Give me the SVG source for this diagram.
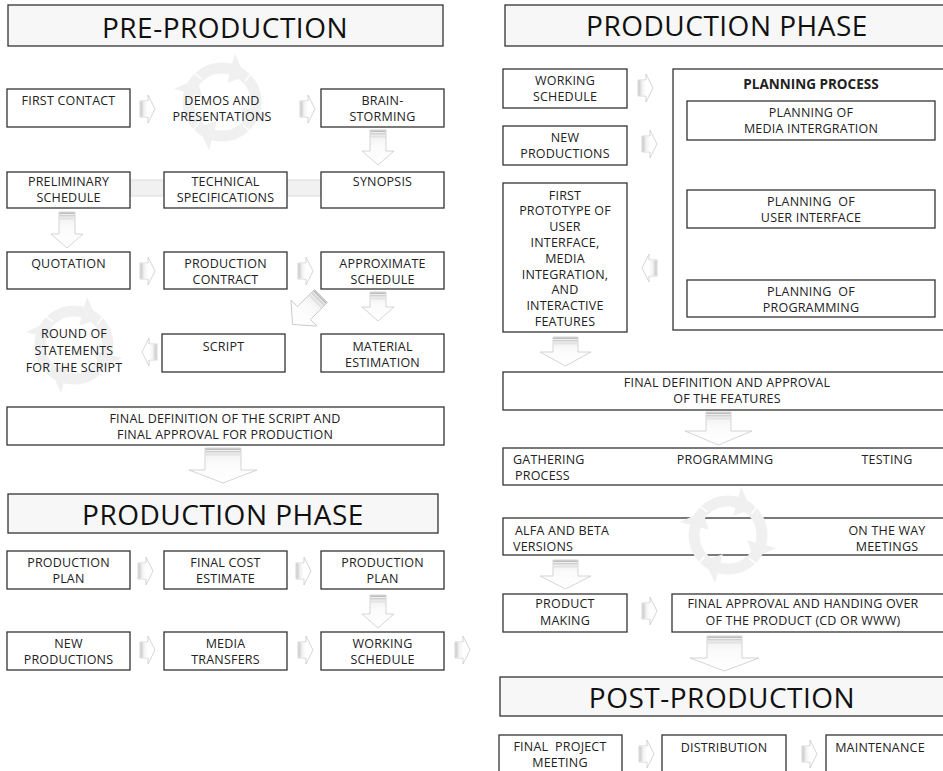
<svg xmlns="http://www.w3.org/2000/svg" xmlns:xlink="http://www.w3.org/1999/xlink" width="943" height="771" viewBox="0 0 943 771">
<style>
.box{fill:#fff;stroke:#333;stroke-width:1.3}
.hdr{fill:#f7f7f7;stroke:#333;stroke-width:1.3}
.band{fill:#f1f1f1;stroke:#dcdcdc;stroke-width:1}
.t{font-family:"Open Sans","Liberation Sans",sans-serif;font-size:12.5px;letter-spacing:0.2px;fill:#222;text-anchor:middle}
.tl{text-anchor:start}
.h{font-size:28px;letter-spacing:0.5px;fill:#111}
.b{font-weight:bold;font-size:13.5px;letter-spacing:0}
.arr{fill:url(#gv);stroke:#cacaca;stroke-width:0.8}
.s1{fill:#bdbdbd}
.s2{fill:#d0d0d0}
.s3{fill:#e2e2e2}
.cyc{fill:#f0f0f0}
</style>
<defs>
<linearGradient id="gv" x1="0" y1="0" x2="0" y2="1">
<stop offset="0" stop-color="#ececec"/>
<stop offset="0.45" stop-color="#fbfbfb"/>
<stop offset="1" stop-color="#ffffff"/>
</linearGradient>
<linearGradient id="gh" x1="0" y1="0" x2="1" y2="0">
<stop offset="0" stop-color="#c6c6c6"/>
<stop offset="0.5" stop-color="#f2f2f2"/>
<stop offset="1" stop-color="#ffffff"/>
</linearGradient>
<g id="ra">
<polygon points="0,6 8,6 8,0 15,14 8,28 8,22 0,22" fill="#fff" stroke="#cacaca" stroke-width="0.8"/>
<rect x="0.5" y="6.5" width="7.5" height="15" fill="url(#gh)"/>
</g>
<g id="ahd">
<polygon points="0,-50 0,-20 16,-30.5" class="cyc"/>
<line x1="17" y1="-26" x2="22" y2="-38" stroke="#fff" stroke-width="1.4"/>
</g>
<g id="cyc">
<circle r="34" fill="none" stroke="#f0f0f0" stroke-width="11"/>
<use xlink:href="#ahd" transform="rotate(15)"/>
<use xlink:href="#ahd" transform="rotate(105)"/>
<use xlink:href="#ahd" transform="rotate(195)"/>
<use xlink:href="#ahd" transform="rotate(285)"/>
</g>
</defs>
<rect width="943" height="771" fill="#fff"/>

<use xlink:href="#cyc" transform="translate(222,102)"/>
<use xlink:href="#cyc" transform="translate(74,345)"/>

<g id="bands">
<rect class="band" x="130" y="180" width="34" height="16"/>
<rect class="band" x="287" y="180" width="34" height="16"/>
</g>

<g id="connectors">
<use xlink:href="#ra" x="140" y="95"/>
<use xlink:href="#ra" x="300" y="95"/>
<use xlink:href="#ra" x="140" y="257"/>
<use xlink:href="#ra" x="298" y="257"/>
<use xlink:href="#ra" x="138" y="557"/>
<use xlink:href="#ra" x="296" y="557"/>
<use xlink:href="#ra" x="140" y="636"/>
<use xlink:href="#ra" x="298" y="636"/>
<use xlink:href="#ra" x="455" y="636"/>
<use xlink:href="#ra" transform="translate(157,338) scale(-1,1)"/>
<use xlink:href="#ra" x="638" y="74"/>
<use xlink:href="#ra" x="642" y="130"/>
<use xlink:href="#ra" transform="translate(657,254) scale(-1,1)"/>
<use xlink:href="#ra" x="642" y="453"/>
<use xlink:href="#ra" x="801" y="453"/>
<use xlink:href="#ra" x="642" y="597"/>
<use xlink:href="#ra" x="639" y="740"/>
<use xlink:href="#ra" x="802" y="740"/>

<polygon class="arr" points="370,130 386,130 386,151 394,151 378,165 362,151 370,151"/>
<rect class="s1" x="370.5" y="130.5" width="15" height="1.5"/><rect class="s2" x="370.5" y="133" width="15" height="1.5"/><rect class="s3" x="370.5" y="135.5" width="15" height="2"/>

<polygon class="arr" points="59,212 75,212 75,234 83,234 67,248 51,234 59,234"/>
<rect class="s1" x="59.5" y="212.5" width="15" height="1.5"/><rect class="s2" x="59.5" y="215" width="15" height="1.5"/><rect class="s3" x="59.5" y="217.5" width="15" height="2"/>

<polygon class="arr" points="370,292 386,292 386,307 394,307 378,321 362,307 370,307"/>
<rect class="s1" x="370.5" y="292.5" width="15" height="1.5"/><rect class="s2" x="370.5" y="295" width="15" height="1.5"/><rect class="s3" x="370.5" y="297.5" width="15" height="2"/>

<g transform="translate(321,296) rotate(45) scale(1.15) translate(-16,0)">
<polygon class="arr" points="8,0 24,0 24,21 32,21 16,35 0,21 8,21"/>
<rect class="s1" x="8.5" y="0.5" width="15" height="1.5"/><rect class="s2" x="8.5" y="3" width="15" height="1.5"/><rect class="s3" x="8.5" y="5.5" width="15" height="2"/>
</g>

<polygon class="arr" points="205,448 241,448 241,470 257,470 223,483 189,470 205,470"/>
<rect class="s1" x="205.5" y="448.5" width="35" height="1.5"/><rect class="s2" x="205.5" y="451" width="35" height="1.5"/><rect class="s3" x="205.5" y="453.5" width="35" height="2"/>

<polygon class="arr" points="370,595 386,595 386,614 394,614 378,628 362,614 370,614"/>
<rect class="s1" x="370.5" y="595.5" width="15" height="1.5"/><rect class="s2" x="370.5" y="598" width="15" height="1.5"/><rect class="s3" x="370.5" y="600.5" width="15" height="2"/>

<polygon class="arr" points="803,148 819,148 819,168 827,168 811,182 795,168 803,168"/>
<rect class="s1" x="803.5" y="148.5" width="15" height="1.5"/><rect class="s2" x="803.5" y="151" width="15" height="1.5"/><rect class="s3" x="803.5" y="153.5" width="15" height="2"/>

<polygon class="arr" points="803,238 819,238 819,258 827,258 811,272 795,258 803,258"/>
<rect class="s1" x="803.5" y="238.5" width="15" height="1.5"/><rect class="s2" x="803.5" y="241" width="15" height="1.5"/><rect class="s3" x="803.5" y="243.5" width="15" height="2"/>

<polygon class="arr" points="553,337 578,337 578,352 591,352 565.5,366 540,352 553,352"/>
<rect class="s1" x="553.5" y="337.5" width="24" height="1.5"/><rect class="s2" x="553.5" y="340" width="24" height="1.5"/><rect class="s3" x="553.5" y="342.5" width="24" height="2"/>

<polygon class="arr" points="706,412 731,412 731,431 752,431 718.5,445 685,431 706,431"/>
<rect class="s1" x="706.5" y="412.5" width="24" height="1.5"/><rect class="s2" x="706.5" y="415" width="24" height="1.5"/><rect class="s3" x="706.5" y="417.5" width="24" height="2"/>

<polygon class="arr" points="553,560 578,560 578,576 591,576 565.5,589 540,576 553,576"/>
<rect class="s1" x="553.5" y="560.5" width="24" height="1.5"/><rect class="s2" x="553.5" y="563" width="24" height="1.5"/><rect class="s3" x="553.5" y="565.5" width="24" height="2"/>

<polygon class="arr" points="707,636 742,636 742,658 759,658 724.5,671 690,658 707,658"/>
<rect class="s1" x="707.5" y="636.5" width="34" height="1.5"/><rect class="s2" x="707.5" y="639" width="34" height="1.5"/><rect class="s3" x="707.5" y="641.5" width="34" height="2"/>
</g>

<g id="hdr-pre"><rect class="hdr" x="8" y="5" width="435" height="41"/><text class="t h" x="225" y="38">PRE-PRODUCTION</text></g>
<g id="n-first-contact"><rect class="box" x="7" y="89" width="123" height="38"/><text class="t" x="68.5" y="104.5">FIRST CONTACT</text></g>
<g id="n-demos"><text class="t" x="222" y="104.5">DEMOS AND</text><text class="t" x="222" y="121">PRESENTATIONS</text></g>
<g id="n-brain"><rect class="box" x="321" y="89" width="123" height="38"/><text class="t" x="382.5" y="104.5">BRAIN-</text><text class="t" x="382.5" y="121">STORMING</text></g>
<g id="n-prelim"><rect class="box" x="7" y="172" width="123" height="36"/><text class="t" x="68.5" y="186">PRELIMINARY</text><text class="t" x="68.5" y="202">SCHEDULE</text></g>
<g id="n-tech"><rect class="box" x="164" y="172" width="123" height="36"/><text class="t" x="225.5" y="186">TECHNICAL</text><text class="t" x="225.5" y="202">SPECIFICATIONS</text></g>
<g id="n-synopsis"><rect class="box" x="321" y="172" width="123" height="36"/><text class="t" x="382.5" y="186">SYNOPSIS</text></g>
<g id="n-quotation"><rect class="box" x="7" y="252" width="123" height="37"/><text class="t" x="68.5" y="267.5">QUOTATION</text></g>
<g id="n-contract"><rect class="box" x="164" y="252" width="123" height="37"/><text class="t" x="225.5" y="267.5">PRODUCTION</text><text class="t" x="225.5" y="283.5">CONTRACT</text></g>
<g id="n-approx"><rect class="box" x="321" y="252" width="123" height="37"/><text class="t" x="382.5" y="267.5">APPROXIMATE</text><text class="t" x="382.5" y="283.5">SCHEDULE</text></g>
<g id="n-round"><text class="t" x="74" y="337.5">ROUND OF</text><text class="t" x="74" y="354.5">STATEMENTS</text><text class="t" x="74" y="371.5">FOR THE SCRIPT</text></g>
<g id="n-script"><rect class="box" x="162" y="334" width="123" height="38"/><text class="t" x="223.5" y="350.5">SCRIPT</text></g>
<g id="n-material"><rect class="box" x="321" y="334" width="123" height="38"/><text class="t" x="382.5" y="350.5">MATERIAL</text><text class="t" x="382.5" y="366.5">ESTIMATION</text></g>
<g id="n-final-script"><rect class="box" x="7" y="407" width="437" height="38"/><text class="t" x="225" y="423">FINAL DEFINITION OF THE SCRIPT AND</text><text class="t" x="225" y="439">FINAL APPROVAL FOR PRODUCTION</text></g>
<g id="hdr-prod-left"><rect class="hdr" x="8" y="494" width="430" height="39"/><text class="t h" x="223" y="525">PRODUCTION PHASE</text></g>
<g id="n-pplan1"><rect class="box" x="7" y="551" width="123" height="38"/><text class="t" x="68.5" y="567">PRODUCTION</text><text class="t" x="68.5" y="583">PLAN</text></g>
<g id="n-cost"><rect class="box" x="164" y="551" width="123" height="38"/><text class="t" x="225.5" y="567">FINAL COST</text><text class="t" x="225.5" y="583">ESTIMATE</text></g>
<g id="n-pplan2"><rect class="box" x="321" y="551" width="123" height="38"/><text class="t" x="382.5" y="567">PRODUCTION</text><text class="t" x="382.5" y="583">PLAN</text></g>
<g id="n-newprod1"><rect class="box" x="7" y="632" width="123" height="38"/><text class="t" x="68.5" y="647.5">NEW</text><text class="t" x="68.5" y="663.5">PRODUCTIONS</text></g>
<g id="n-media"><rect class="box" x="164" y="632" width="123" height="38"/><text class="t" x="225.5" y="647.5">MEDIA</text><text class="t" x="225.5" y="663.5">TRANSFERS</text></g>
<g id="n-working1"><rect class="box" x="321" y="632" width="123" height="38"/><text class="t" x="382.5" y="647.5">WORKING</text><text class="t" x="382.5" y="663.5">SCHEDULE</text></g>

<g id="hdr-prod-right"><rect class="hdr" x="505" y="5" width="450" height="41"/><text class="t h" x="727" y="36">PRODUCTION PHASE</text></g>
<g id="n-working2"><rect class="box" x="503" y="69" width="124" height="39"/><text class="t" x="565" y="84.5">WORKING</text><text class="t" x="565" y="101">SCHEDULE</text></g>
<g id="n-newprod2"><rect class="box" x="503" y="126" width="124" height="39"/><text class="t" x="565" y="141.5">NEW</text><text class="t" x="565" y="157.5">PRODUCTIONS</text></g>
<g id="n-prototype"><rect class="box" x="503" y="183" width="124" height="149"/>
<text class="t" x="565" y="199.5">FIRST</text><text class="t" x="565" y="215.3">PROTOTYPE OF</text><text class="t" x="565" y="231.1">USER</text><text class="t" x="565" y="246.9">INTERFACE,</text><text class="t" x="565" y="262.7">MEDIA</text><text class="t" x="565" y="278.5">INTEGRATION,</text><text class="t" x="565" y="294.3">AND</text><text class="t" x="565" y="310.1">INTERACTIVE</text><text class="t" x="565" y="325.9">FEATURES</text></g>
<g id="n-planning"><rect class="box" x="673" y="69" width="280" height="261"/><text class="t b" x="811" y="88.5">PLANNING PROCESS</text></g>
<g id="n-plan-media"><rect class="box" x="687" y="101" width="248" height="39"/><text class="t" x="811" y="117">PLANNING OF</text><text class="t" x="811" y="133">MEDIA INTERGRATION</text></g>
<g id="n-plan-ui"><rect class="box" x="687" y="190" width="248" height="38"/><text class="t" x="811" y="206" xml:space="preserve">PLANNING  OF</text><text class="t" x="811" y="222">USER INTERFACE</text></g>
<g id="n-plan-prog"><rect class="box" x="687" y="280" width="248" height="37"/><text class="t" x="811" y="296" xml:space="preserve">PLANNING  OF</text><text class="t" x="811" y="312">PROGRAMMING</text></g>
<g id="n-final-features"><rect class="box" x="503" y="372" width="450" height="38"/><text class="t" x="727" y="387">FINAL DEFINITION AND APPROVAL</text><text class="t" x="727" y="403">OF THE FEATURES</text></g>
<g id="n-gathering"><rect class="box" x="503" y="448" width="450" height="37"/><text class="t tl" x="513" y="464">GATHERING</text><text class="t tl" x="515" y="480">PROCESS</text><text class="t" x="725" y="464">PROGRAMMING</text><text class="t" x="887" y="464">TESTING</text></g>
<g id="n-alfa"><rect class="box" x="503" y="518" width="450" height="37"/></g>
<use xlink:href="#cyc" transform="translate(728,535)"/>
<g id="n-alfa-text"><text class="t tl" x="515" y="534.5">ALFA AND BETA</text><text class="t tl" x="513" y="550.5">VERSIONS</text><text class="t" x="887" y="534.5">ON THE WAY</text><text class="t" x="887" y="550.5">MEETINGS</text></g>
<g id="n-product-making"><rect class="box" x="503" y="594" width="124" height="38"/><text class="t" x="565" y="608">PRODUCT</text><text class="t" x="565" y="624.5">MAKING</text></g>
<g id="n-final-approval"><rect class="box" x="672" y="594" width="281" height="38"/><text class="t" x="803" y="608">FINAL APPROVAL AND HANDING OVER</text><text class="t" x="803" y="624.5">OF THE PRODUCT (CD OR WWW)</text></g>
<g id="hdr-post"><rect class="hdr" x="500" y="677" width="455" height="39"/><text class="t h" x="722" y="708">POST-PRODUCTION</text></g>
<g id="n-final-meeting"><rect class="box" x="499" y="735" width="123" height="50"/><text class="t" x="560" y="751" xml:space="preserve">FINAL  PROJECT</text><text class="t" x="560" y="767">MEETING</text></g>
<g id="n-distribution"><rect class="box" x="662" y="735" width="124" height="50"/><text class="t" x="724" y="751.5">DISTRIBUTION</text></g>
<g id="n-maintenance"><rect class="box" x="826" y="735" width="127" height="50"/><text class="t" x="880" y="751.5">MAINTENANCE</text></g>
</svg>
